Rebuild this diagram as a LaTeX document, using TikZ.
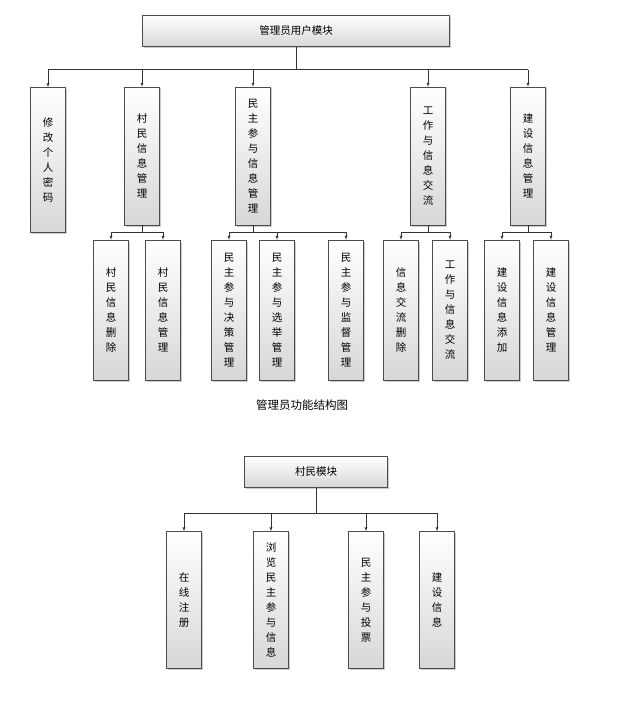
\documentclass[tikz,border=0pt]{standalone}
\usepackage{fontspec}
\setmainfont{Noto Sans CJK SC}
\usetikzlibrary{positioning,shadows}
\definecolor{boxgray}{RGB}{215,215,215}
\begin{document}
\begin{tikzpicture}[x=1pt,y=-1pt,inner sep=0pt,font=\fontsize{10.5}{15}\selectfont]
\tikzstyle{head}=[rectangle, draw=black!70, top color=white, bottom color=boxgray, drop shadow={shadow xshift=1.5pt,shadow yshift=-1.5pt,opacity=.4}]
\tikzstyle{tall}=[head, minimum width=35pt, align=center]
\tikzstyle{connect}=[-latex, black!80]
\tikzstyle{line}=[black!80]
\useasboundingbox (0,0) rectangle (621,722);
\node[head,minimum width=307pt,minimum height=31pt] (admin) at (296,31) {管理员用户模块};
\node[tall,minimum height=145pt] (pwd) at (48,160) {修\\改\\个\\人\\密\\码};
\node[tall,minimum height=138pt] (cm) at (142,156) {村\\民\\信\\息\\管\\理};
\node[tall,minimum height=138pt] (mz) at (253,156) {民\\主\\参\\与\\信\\息\\管\\理};
\node[tall,minimum height=138pt] (gz) at (428,156) {工\\作\\与\\信\\息\\交\\流};
\node[tall,minimum height=138pt] (js) at (528,156) {建\\设\\信\\息\\管\\理};
\foreach \n/\x/\t in {cma/111/村\\民\\信\\息\\删\\除, cmb/163/村\\民\\信\\息\\管\\理,
  mza/229/民\\主\\参\\与\\决\\策\\管\\理, mzb/277/民\\主\\参\\与\\选\\举\\管\\理, mzc/346/民\\主\\参\\与\\监\\督\\管\\理,
  gza/401/信\\息\\交\\流\\删\\除, gzb/450/工\\作\\与\\信\\息\\交\\流,
  jsa/502/建\\设\\信\\息\\添\\加, jsb/551/建\\设\\信\\息\\管\\理}
  \node[tall,minimum height=140pt] (\n) at (\x,310) {\t};
\node (cap) at (302,405) {\fontsize{11.5}{14}\selectfont 管理员功能结构图};
% admin tree
\draw[line] (admin.south) -- ++(0,23) coordinate (bus);
\draw[line] (bus -| pwd) -- (bus -| js);
\foreach \c in {pwd,cm,mz,gz,js} \draw[connect] (bus -| \c.north) -- (\c.north);
\foreach \p/\a/\b in {cm/cma/cmb, mz/mza/mzc, gz/gza/gzb, js/jsa/jsb} {
  \draw[line] (\p.south) -- ++(0,7) coordinate (sub);
  \draw[line] (sub -| \a) -- (sub -| \b);
  \draw[connect] (sub -| \a.north) -- (\a.north);
  \draw[connect] (sub -| \b.north) -- (\b.north);
}
\draw[connect] (mz.south) ++(0,7) -| (mzb.north);
% villager tree
\node[head,minimum width=143pt,minimum height=31pt] (cmmk) at (316,472) {村民模块};
\foreach \n/\x/\t in {zc/184/在\\线\\注\\册, ll/271/浏\\览\\民\\主\\参\\与\\信\\息, tp/366/民\\主\\参\\与\\投\\票, xx/437/建\\设\\信\\息}
  \node[tall,minimum height=137pt] (\n) at (\x,600) {\t};
\draw[line] (cmmk.south) -- ++(0,25) coordinate (vbus);
\draw[line] (vbus -| zc) -- (vbus -| xx);
\foreach \c in {zc,ll,tp,xx} \draw[connect] (vbus -| \c.north) -- (\c.north);
\end{tikzpicture}
\end{document}
